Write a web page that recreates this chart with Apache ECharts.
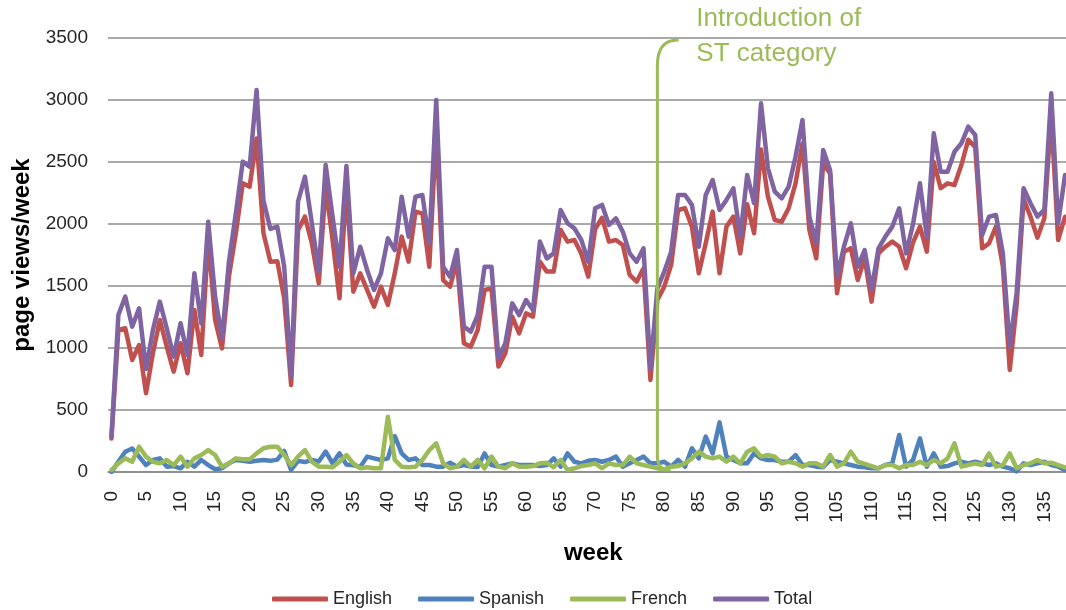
<!DOCTYPE html>
<html>
<head>
<meta charset="utf-8">
<script src="https://cdn.jsdelivr.net/npm/echarts@6/dist/echarts.min.js"></script>
<style>
html,body{margin:0;padding:0;background:#fff;overflow:hidden;width:1066px;height:610px;}
#chart{width:1100px;height:610px;}
</style>
</head>
<body>
<div id="chart"></div>
<script>
var weeks = [];
for (var w = 0; w <= 138; w++) weeks.push(String(w));

var english = [270,1145,1159,903,1024,635,957,1226,1011,809,1038,796,1307,944,1880,1226,997,1575,1925,2328,
2301,2690,1925,1696,1700,1400,702,1950,2060,1844,1522,2300,1871,1401,2300,1454,1602,1468,1333,1495,
1347,1602,1898,1696,2100,2086,1656,2750,1548,1495,1700,1038,1011,1145,1468,1481,850,957,1253,1118,
1280,1253,1696,1616,1616,1952,1858,1871,1760,1575,1960,2050,1858,1871,1831,1589,1535,1643,742,1387,
1495,1670,2113,2127,1979,1602,1844,2100,1602,1979,2060,1763,2160,1925,2600,2220,2032,2019,2127,2328,
2650,1952,1723,2489,2408,1441,1777,1804,1548,1723,1374,1763,1817,1858,1817,1643,1850,1979,1777,2500,
2288,2328,2315,2476,2680,2620,1804,1844,1979,1656,823,1350,2200,2059,1890,2046,2880,1871,2059];

var spanish = [0,83,164,190,124,56,97,110,43,48,30,83,43,97,56,22,30,70,97,91,
83,91,97,90,100,170,16,90,80,97,85,164,70,150,60,55,40,124,110,97,
110,290,150,97,110,56,56,43,43,75,43,56,43,40,150,56,43,56,70,56,
56,56,48,56,110,43,150,83,70,90,97,83,97,124,43,70,97,124,70,70,
83,43,97,43,191,110,285,150,400,124,97,70,70,150,110,97,97,83,83,137,
56,56,43,38,97,83,70,56,43,38,30,30,56,70,298,43,97,271,43,150,
43,48,70,83,70,83,70,56,70,43,30,5,70,56,70,83,56,43,16];

var french = [16,70,110,83,204,124,83,70,97,56,124,43,110,137,177,137,43,70,110,102,
102,150,191,204,204,137,56,124,177,83,43,43,38,83,137,70,30,38,30,30,
446,97,43,38,43,97,177,231,70,30,43,97,43,97,30,124,43,30,70,43,
43,48,70,75,38,97,16,30,48,56,70,30,70,56,56,124,70,56,43,30,
22,43,48,70,110,164,124,110,124,83,124,70,164,191,124,137,124,70,83,70,
43,70,70,43,137,43,70,164,83,65,48,30,56,56,30,56,56,83,56,97,
70,110,231,43,56,70,56,150,43,56,150,30,56,70,97,70,75,56,38];

var total = [285,1266,1414,1172,1320,830,1145,1374,1159,930,1199,944,1602,1199,2019,1414,1078,1696,2086,2503,
2462,3080,2190,1960,1979,1656,769,2180,2382,2006,1616,2476,2060,1656,2468,1602,1817,1629,1468,1602,
1884,1790,2220,1898,2220,2234,1844,3000,1656,1575,1790,1172,1132,1266,1656,1656,917,1038,1360,1266,
1387,1306,1858,1723,1763,2113,2006,1965,1871,1696,2127,2154,1992,2046,1938,1763,1696,1804,833,1481,
1616,1777,2234,2234,2154,1817,2234,2355,2113,2194,2288,1898,2395,2167,2973,2449,2261,2207,2301,2543,
2839,2059,1844,2597,2435,1575,1817,2006,1656,1790,1468,1804,1898,1979,2127,1763,2000,2328,1898,2731,
2422,2422,2583,2651,2785,2718,1912,2059,2073,1763,1011,1450,2288,2167,2060,2113,3054,2006,2395];

var seriesNames = ['English','Spanish','French','Total'];
var seriesColors = ['#C0504D','#4F81BD','#9BBB59','#8064A2'];
var seriesData = [english, spanish, french, total];
var yTicks = [0, 3500, 500];
var annotationWeek = '79';
var annotationLines = ['Introduction of', 'ST category'];

var FONT = '"Liberation Sans", Arial, sans-serif';
var chart = echarts.init(document.getElementById('chart'), null, {renderer: 'canvas'});

var series = seriesNames.map(function (n, k) {
  return {
    name: n, type: 'line', data: seriesData[k], showSymbol: false, symbol: 'none',
    lineStyle: {color: seriesColors[k], width: 4.5, cap: 'round', join: 'round'},
    itemStyle: {color: seriesColors[k]},
    animation: false, z: 2 + k
  };
});

chart.setOption({
  animation: false,
  grid: {left: 108, top: 38, width: 960.5, height: 434, containLabel: false},
  legend: {
    data: seriesNames, left: 272, top: 590, padding: 0, icon: 'roundRect',
    itemWidth: 56, itemHeight: 5, itemGap: 26,
    textStyle: {fontFamily: FONT, fontSize: 18, color: '#262626'}
  },
  xAxis: {
    type: 'category', data: weeks, boundaryGap: true,
    name: 'week', nameLocation: 'middle', nameGap: 69,
    nameTextStyle: {fontFamily: FONT, fontSize: 24, fontWeight: 'bold', color: '#000', padding: [0,0,0,10]},
    axisLine: {show: true, lineStyle: {color: '#868686', width: 1.5}},
    axisTick: {show: false},
    axisLabel: {interval: 4, rotate: 90, margin: 19, fontFamily: FONT, fontSize: 19, color: '#262626'},
    splitLine: {show: false}
  },
  yAxis: {
    type: 'value', min: yTicks[0], max: yTicks[1], interval: yTicks[2],
    name: 'page views/week', nameLocation: 'middle', nameGap: 56, nameRotate: 90,
    nameTextStyle: {fontFamily: FONT, fontSize: 24, fontWeight: 'bold', color: '#000'},
    axisLine: {show: false}, axisTick: {show: false},
    axisLabel: {margin: 20, fontFamily: FONT, fontSize: 19, color: '#262626',
      formatter: function (v) { return String(v); }},
    splitLine: {show: true, lineStyle: {color: '#8c8c8c', width: 1.5}}
  },
  series: series
});

function drawAnnotation() {
  var x0 = chart.convertToPixel({xAxisIndex: 0}, annotationWeek);
  var yTop = chart.convertToPixel({yAxisIndex: 0}, yTicks[1]) + 2;
  var yBot = chart.convertToPixel({yAxisIndex: 0}, 0) - 2;
  var st = {stroke: '#9BBB59', lineWidth: 3, fill: null, lineCap: 'round'};
  chart.setOption({
    graphic: [
      {type: 'bezierCurve', id: 'hookTop', z: 10,
       shape: {x1: x0 + 20, y1: yTop, x2: x0, y2: yTop + 26, cpx1: x0, cpy1: yTop},
       style: st},
      {type: 'line', id: 'stem', z: 10,
       shape: {x1: x0, y1: yTop + 26, x2: x0, y2: yBot - 14},
       style: st},
      {type: 'bezierCurve', id: 'hookBot', z: 10,
       shape: {x1: x0, y1: yBot - 14, x2: x0 + 12, y2: yBot, cpx1: x0, cpy1: yBot},
       style: st},
      {type: 'text', id: 't1', x: x0 + 39, y: 19, z: 10,
       style: {text: annotationLines[0], font: '26px ' + FONT, fill: '#9BBB59', verticalAlign: 'middle', align: 'left'}},
      {type: 'text', id: 't2', x: x0 + 39, y: 54, z: 10,
       style: {text: annotationLines[1], font: '26px ' + FONT, fill: '#9BBB59', verticalAlign: 'middle', align: 'left'}}
    ]
  });
}
drawAnnotation();
</script>
</body>
</html>
